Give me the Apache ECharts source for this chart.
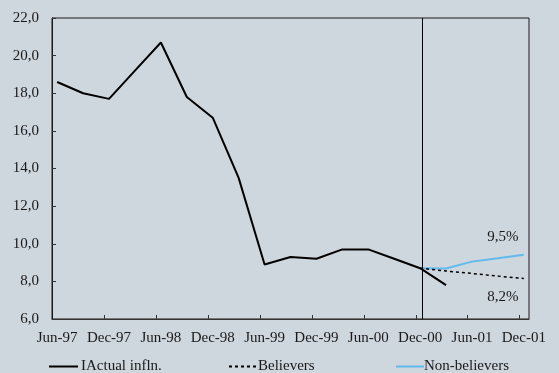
<!DOCTYPE html>
<html>
<head>
<meta charset="utf-8">
<script src="https://cdn.jsdelivr.net/npm/echarts@6/dist/echarts.min.js"></script>
<style>
html,body{margin:0;padding:0;background:#CED6DE;}
#c{width:559px;height:373px;}
</style>
</head>
<body>
<div id="c"></div>
<script>
// Quarterly periods (months since Jun-97 = index * 3)
var actualPeriods = ['Jun-97','Sep-97','Dec-97','Mar-98','Jun-98','Sep-98','Dec-98','Mar-99','Jun-99','Sep-99','Dec-99','Mar-00','Jun-00','Sep-00','Dec-00','Mar-01'];
var actualValues = [18.6, 18.0, 17.7, 19.2, 20.7, 17.8, 16.7, 13.5, 8.9, 9.3, 9.2, 9.7, 9.7, 9.2, 8.7, 7.8];
var forecastPeriods = ['Dec-00','Mar-01','Jun-01','Sep-01','Dec-01'];
var believersValues = [8.7, 8.55, 8.42, 8.28, 8.15];
var nonBelieversValues = [8.7, 8.68, 9.05, 9.23, 9.42];
var tickLabels = ['Jun-97','Dec-97','Jun-98','Dec-98','Jun-99','Dec-99','Jun-00','Dec-00','Jun-01','Dec-01'];
var endLabels = {believers: '8,2%', nonBelievers: '9,5%'};
var seriesNames = ['IActual infln.', 'Believers', 'Non-believers'];
var splitPeriod = 'Dec-00';

var allPeriods = actualPeriods.concat(['Jun-01','Sep-01','Dec-01']);
function monthOf(p){ return allPeriods.indexOf(p) * 3; }
function pairs(periods, vals){ return periods.map(function(p,i){ return [monthOf(p), vals[i]]; }); }

var FONT = 'Liberation Serif';
var TXT = '#1a1a1a';

var believersData = pairs(forecastPeriods, believersValues);
var nonBelData = pairs(forecastPeriods, nonBelieversValues);
var lastB = believersData.length - 1;
believersData[lastB] = {value: believersData[lastB], label: {show: true, formatter: endLabels.believers, position: 'bottom', distance: 0, offset: [-21, 11], fontFamily: FONT, fontSize: 15, color: TXT}};
var lastN = nonBelData.length - 1;
nonBelData[lastN] = {value: nonBelData[lastN], label: {show: true, formatter: endLabels.nonBelievers, position: 'top', distance: 0, offset: [-21, -10], fontFamily: FONT, fontSize: 15, color: TXT}};

var labelMonths = tickLabels.map(function(l){ return monthOf(l); });
var tickMonths = labelMonths.slice(1).map(function(m){ return m - 0.5; });

var legendCommon = {itemHeight: 10, itemGap: 0, top: 359, padding: 0,
  itemStyle: {color: 'transparent', borderColor: 'transparent', borderWidth: 0, opacity: 0}};

var chart = echarts.init(document.getElementById('c'));
chart.setOption({
  backgroundColor: '#CED6DE',
  animation: false,
  textStyle: {fontFamily: FONT, color: TXT},
  grid: {left: 52, right: 30, top: 18, bottom: 54, show: true, borderColor: '#1a1a1a', borderWidth: 1, backgroundColor: 'transparent', containLabel: false},
  xAxis: {
    type: 'value', min: -0.6, max: 54.6,
    splitLine: {show: false},
    axisLine: {show: true, onZero: false, lineStyle: {color: '#333', width: 1}},
    axisTick: {show: true, inside: true, length: 4, customValues: tickMonths, lineStyle: {color: '#333'}},
    axisLabel: {customValues: labelMonths, margin: 12, fontFamily: FONT, fontSize: 15, color: TXT,
      formatter: function(v){ var i = labelMonths.indexOf(Math.round(v)); return i >= 0 ? tickLabels[i] : ''; }}
  },
  yAxis: {
    type: 'value', min: 6, max: 22, interval: 2,
    splitLine: {show: false},
    axisLine: {show: true, onZero: false, lineStyle: {color: '#1a1a1a', width: 1}},
    axisTick: {show: true, inside: true, length: 4, lineStyle: {color: '#333'}},
    axisLabel: {margin: 13, fontFamily: FONT, fontSize: 15, color: TXT,
      formatter: function(v){ return v.toFixed(1).replace('.', ','); }}
  },
  legend: [
    Object.assign({data: [seriesNames[0]], left: 48, itemWidth: 29, textStyle: {fontFamily: FONT, fontSize: 15, color: TXT, padding: [0,0,0,-2]}}, legendCommon),
    Object.assign({data: [seriesNames[1]], left: 228, itemWidth: 28, textStyle: {fontFamily: FONT, fontSize: 15, color: TXT, padding: [0,0,0,-4]}}, legendCommon),
    Object.assign({data: [seriesNames[2]], left: 395, itemWidth: 28, textStyle: {fontFamily: FONT, fontSize: 15, color: TXT, padding: [0,0,0,-5]}}, legendCommon)
  ],
  series: [
    {name: seriesNames[0], type: 'line', symbol: 'none', data: pairs(actualPeriods, actualValues),
     lineStyle: {color: '#000', width: 2}, itemStyle: {color: '#000'}, z: 3,
     markLine: {silent: true, symbol: 'none', label: {show: false}, lineStyle: {color: '#000', width: 1, type: 'solid'},
       data: [{xAxis: monthOf(splitPeriod) + 0.2}]}},
    {name: seriesNames[1], type: 'line', symbol: 'circle', symbolSize: 0, showSymbol: true, data: believersData,
     lineStyle: {color: '#000', width: 1.5, type: [3, 3]}, itemStyle: {color: '#000'}, z: 4},
    {name: seriesNames[2], type: 'line', symbol: 'circle', symbolSize: 0, showSymbol: true, data: nonBelData,
     lineStyle: {color: '#62BAEC', width: 2}, itemStyle: {color: '#62BAEC'}, z: 2}
  ]
});
</script>
</body>
</html>
